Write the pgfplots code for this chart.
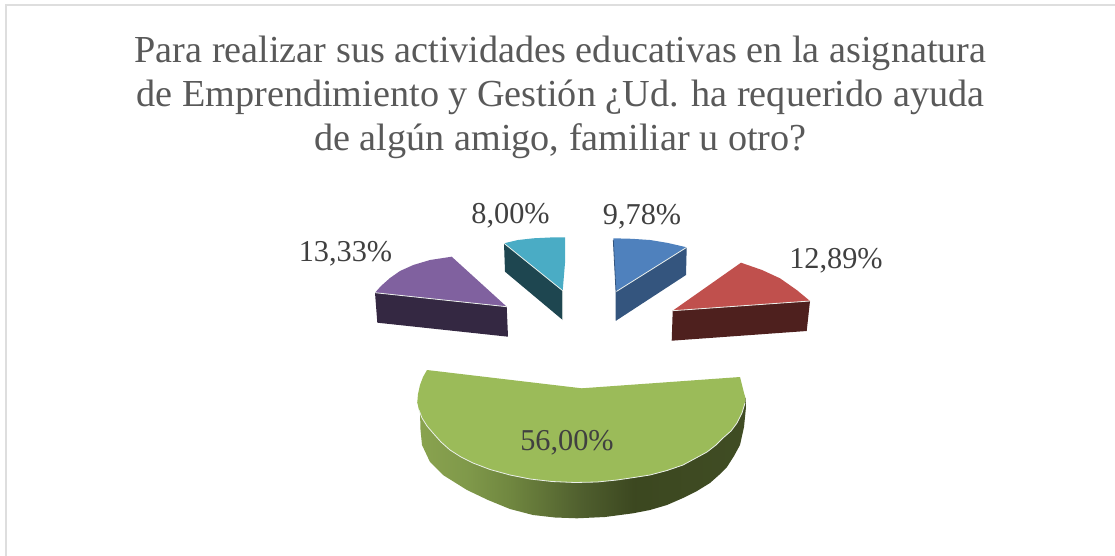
\documentclass[border=0pt]{standalone}
\usepackage{fontspec}
\setmainfont{Liberation Serif}
\usepackage{pgfplots}
\pgfplotsset{compat=1.18}
\definecolor{txt}{RGB}{89,89,89}
\definecolor{lab}{RGB}{64,64,64}
\definecolor{ptop}{RGB}{128,97,159}
\definecolor{pside}{RGB}{52,40,66}
\definecolor{ttop}{RGB}{74,172,197}
\definecolor{tside}{RGB}{30,70,80}
\definecolor{btop}{RGB}{79,129,189}
\definecolor{bside}{RGB}{52,85,126}
\definecolor{rtop}{RGB}{192,80,77}
\definecolor{rside}{RGB}{78,32,30}
\definecolor{gtop}{RGB}{155,187,89}
\definecolor{rim}{RGB}{235,240,235}
\pgfdeclarehorizontalshading{greenside}{100bp}{
  rgb(0bp)=(0.54,0.64,0.31);
  rgb(25bp)=(0.54,0.64,0.31);
  rgb(32.5bp)=(0.50,0.60,0.29);
  rgb(39bp)=(0.44,0.53,0.25);
  rgb(50bp)=(0.31,0.37,0.18);
  rgb(58bp)=(0.235,0.28,0.125);
  rgb(75bp)=(0.25,0.30,0.14);
  rgb(100bp)=(0.25,0.30,0.14)}
\begin{document}
\begin{tikzpicture}
\begin{axis}[
  x=1pt,y=1pt,y dir=reverse,
  xmin=0,xmax=1115,ymin=0,ymax=556,
  axis lines=none,clip=false,
  scale only axis]
\path[use as bounding box] (axis cs:0,0) rectangle (axis cs:1115,556);

% frame (top and left only)
\addplot[color=black!13,line width=2pt,forget plot] coordinates {(5.5,556) (5.5,5) (1115,5)};

% purple: 13,33%
\addplot[fill=pside,draw=none] coordinates {(375,292.7) (506.7,306.7) (508,336.7) (377.3,322.7)} -- cycle;
\addplot[fill=ptop,draw=none] coordinates {(506.7,306.7) (451.7,256.7) (430,260) (413.3,265) (400,271) (390,278) (381,286) (375,292.7)} -- cycle;
\addplot[color=rim,line width=0.8pt] coordinates {(375,292.7) (506.7,306.7)};

% teal: 8,00%
\addplot[fill=tside,draw=none] coordinates {(504,243.3) (562.7,290.7) (562.7,320) (505,271.7)} -- cycle;
\addplot[fill=ttop,draw=none] coordinates {(504,243.3) (518,240) (533.3,238.3) (550,237.5) (565,237.3) (565,263) (562.7,290.7)} -- cycle;
\addplot[color=rim,line width=0.8pt] coordinates {(504,243.3) (562.7,290.7) (562.7,320)};

% blue: 9,78%
\addplot[fill=bside,draw=none] coordinates {(686.7,247.3) (686,275) (616,320.7) (616,291.7)} -- cycle;
\addplot[fill=btop,draw=none] coordinates {(613.3,238.3) (632,238.8) (650,240) (668,243) (686.7,247.3) (616,291.7)} -- cycle;
\addplot[color=rim,line width=0.8pt] coordinates {(686.7,247.3) (616,291.7)};
\addplot[color=bside,line width=0.8pt] coordinates {(613.3,240) (616,291.7) (616,320.7)};

% red: 12,89%
\addplot[fill=rside,draw=none] coordinates {(672.7,310.7) (810,301) (806.7,331) (671.7,340.7)} -- cycle;
\addplot[fill=rtop,draw=none] coordinates {(672.7,310.7) (741,262.7) (762,270) (780,278.3) (796.7,290) (810,301)} -- cycle;
\addplot[color=rim,line width=0.8pt] coordinates {(672.7,310.7) (810,301)};

% green: 56,00%
\addplot[shading=greenside,draw=none] coordinates {(417.3,402) (420,412) (420.5,430) (422,445) (430,462) (443,475) (467,490) (488,500) (510,509) (533,515) (555,517.5) (577,518.3) (605,517) (633,513.3) (650,510) (667,505) (683,498) (697,491) (710,483) (719,475) (727,467) (734,456) (740,445) (744,427) (746,407) (745.5,398)} -- cycle;
\addplot[fill=gtop,draw=none] coordinates {(581.7,388.3) (427,370) (423,377) (420,385) (418,394) (417.3,402) (419,410) (422,418) (427,426) (433,433) (441,442) (450,450) (461,457) (473,463) (490,469.5) (510,475) (530,479) (552,481.5) (575,482.5) (597,482) (617,480) (634,477.5) (650,475) (667,470.5) (683,465) (696,458) (707,452) (716,445) (723,438) (731,431) (737,423) (742,413) (745,403) (745.5,398) (744,393) (742,385) (740,377)} -- cycle;
\addplot[color=rim,line width=0.8pt,line join=round] coordinates {(419,410) (422,418) (427,426) (433,433) (441,442) (450,450) (461,457) (473,463) (490,469.5) (510,475) (530,479) (552,481.5) (575,482.5) (597,482) (617,480) (634,477.5) (650,475) (667,470.5) (683,465) (696,458) (707,452) (716,445) (723,438) (731,431) (737,423) (742,413) (745,403)};

% title and data labels
\node[text=txt,font=\fontsize{38.2}{44}\selectfont,align=center,anchor=center] at (axis cs:560.5,97)
  {Para realizar sus actividades educativas en la asignatura\\
   de Emprendimiento y Gestión ¿Ud. ha requerido ayuda\\
   de algún amigo, familiar u otro?};
\node[text=lab,font=\fontsize{30.3}{34}\selectfont] at (axis cs:345.5,254) {13,33\%};
\node[text=lab,font=\fontsize{30.3}{34}\selectfont] at (axis cs:510.5,216) {8,00\%};
\node[text=lab,font=\fontsize{30.3}{34}\selectfont] at (axis cs:642,217) {9,78\%};
\node[text=lab,font=\fontsize{30.3}{34}\selectfont] at (axis cs:836,261) {12,89\%};
\node[text=lab,font=\fontsize{30.3}{34}\selectfont] at (axis cs:567,443) {56,00\%};
\end{axis}
\end{tikzpicture}
\end{document}
